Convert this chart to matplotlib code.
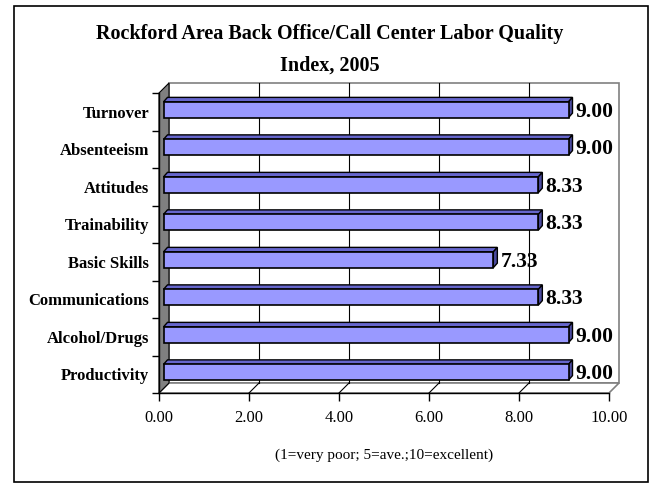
import matplotlib.pyplot as plt
from matplotlib.patches import Polygon, Rectangle
from matplotlib.lines import Line2D
from matplotlib.transforms import IdentityTransform, offset_copy

plt.rcParams["font.family"] = ["Liberation Serif", "DejaVu Serif"]

# Survey data
categories = ["Turnover", "Absenteeism", "Attitudes", "Trainability",
              "Basic Skills", "Communications", "Alcohol/Drugs", "Productivity"]
scores = [9.00, 9.00, 8.33, 8.33, 7.33, 8.33, 9.00, 9.00]
x_ticks = [0, 2, 4, 6, 8, 10]

title = "Rockford Area Back Office/Call Center Labor Quality\nIndex, 2005"
note = "(1=very poor; 5=ave.;10=excellent)"

W, H = 652, 492
fig = plt.figure(figsize=(W / 100, H / 100), dpi=100)
ax = fig.add_axes([159 / W, 1 - 393 / H, 450 / W, 300 / H])
ax.set_facecolor("none")
y0, y1 = -0.5, len(categories) - 0.5
ax.set_xlim(0, 10)
ax.set_ylim(y1, y0)

# pseudo-3D depth (pixels): full wall depth and bar placement
DX, DY = 10, 10          # back plane offset
BX, BY = 4.5, 2          # bar front face offset
TX, TY = 4, 4.5          # bar thickness
ident = IdentityTransform()


def px(x, y, dx=0, dy=0):
    p = ax.transData.transform((x, y))
    return (p[0] + dx, p[1] + dy)


def poly(pts, **kw):
    ax.add_patch(Polygon(pts, closed=True, transform=ident, clip_on=False, **kw))


def seg(p, q, **kw):
    ax.add_line(Line2D([p[0], q[0]], [p[1], q[1]], transform=ident,
                       clip_on=False, **kw))


# back wall
poly([px(0, y0, DX, DY), px(10, y0, DX, DY), px(10, y1, DX, DY), px(0, y1, DX, DY)],
     facecolor="white", edgecolor="#808080", lw=1.2, zorder=0.5)
# floor
poly([px(0, y1), px(10, y1), px(10, y1, DX, DY), px(0, y1, DX, DY)],
     facecolor="white", edgecolor="#808080", lw=1.2, zorder=0.6)

# gridlines on back wall and floor
for xt in x_ticks[1:-1]:
    back_bot = px(xt, y1, DX, DY)
    seg(back_bot, px(xt, y0, DX, DY), color="black", lw=0.8, zorder=0.7)
    seg(px(xt, y1), back_bot, color="black", lw=0.8, zorder=0.7)

# left wall
poly([px(0, y0), px(0, y1), px(0, y1, DX, DY), px(0, y0, DX, DY)],
     facecolor="#808080", edgecolor="black", lw=0.8, zorder=0.8)

# bars: front face plus top and side faces
bar_h = 0.42
bar_tr = offset_copy(ax.transData, fig=fig, x=BX, y=BY, units="dots")
ax.barh(range(len(categories)), scores, height=bar_h, left=0,
        color="#9999FF", edgecolor="black", lw=1.2, transform=bar_tr,
        zorder=3, clip_on=False)
for i, v in enumerate(scores):
    tl = px(0, i - bar_h / 2, BX, BY)
    tr = px(v, i - bar_h / 2, BX, BY)
    br = px(v, i + bar_h / 2, BX, BY)
    poly([tl, tr, (tr[0] + TX, tr[1] + TY), (tl[0] + TX, tl[1] + TY)],
         facecolor="#6666CC", edgecolor="black", lw=1.0, zorder=2.9)
    poly([tr, br, (br[0] + TX, br[1] + TY), (tr[0] + TX, tr[1] + TY)],
         facecolor="#4B4BA0", edgecolor="black", lw=1.0, zorder=2.9)
    ax.annotate(f"{v:.2f}", xy=(v, i), xytext=(BX + TX + 3, 0),
                textcoords="offset pixels", ha="left", va="center",
                fontsize=15.5, fontweight="bold", zorder=4, annotation_clip=False)

# axes styling
ax.set_xlim(0, 10)
ax.set_ylim(y1, y0)
for s in ["top", "right"]:
    ax.spines[s].set_visible(False)
for s in ["left", "bottom"]:
    ax.spines[s].set_color("black")
    ax.spines[s].set_linewidth(1.0)
ax.set_xticks(x_ticks)
ax.set_xticklabels([f"{t:.2f}" for t in x_ticks], fontsize=12)
ax.tick_params(axis="x", direction="out", length=6, width=1, pad=6)
ax.set_yticks(range(len(categories)))
ax.set_yticklabels(categories, fontsize=12, fontweight="bold")
ax.set_yticks([k - 0.5 for k in range(len(categories) + 1)], minor=True)
ax.tick_params(axis="y", which="major", length=0, pad=7)
ax.tick_params(axis="y", which="minor", direction="out", length=5, width=1)

# title and footnote
fig.text(330 / W, 1 - 24 / H, title, ha="center", va="top",
         fontsize=14.5, fontweight="bold", linespacing=1.75)
fig.text(384 / W, 1 - 455 / H, note, ha="center", va="center", fontsize=11)

# chart border
fig.add_artist(Rectangle((14, H - 482), 634, 476, transform=ident,
                         fill=False, edgecolor="black", lw=1.2))

fig.savefig("out.png", dpi=100)
